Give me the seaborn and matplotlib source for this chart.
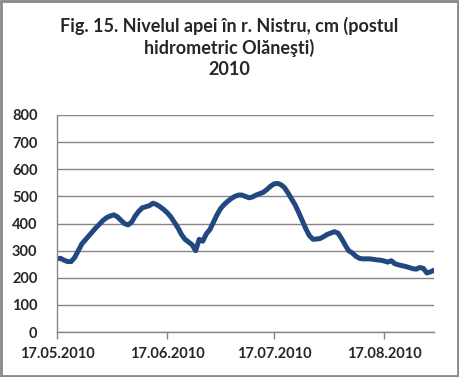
import pandas as pd
import matplotlib.pyplot as plt
import matplotlib.dates as mdates
from matplotlib.patches import Rectangle
import seaborn as sns

# Nivelul apei, cm, zilnic 17.05.2010 - 31.08.2010
start = '2010-05-17'
nivel = [270, 272, 265, 260, 260, 275, 300, 325, 340, 355,
         370, 385, 398, 412, 422, 428, 432, 425, 412, 400,
         395, 405, 428, 445, 458, 462, 466, 475, 470, 462,
         452, 440, 425, 405, 385, 360, 342, 332, 322, 300,
         342, 335, 362, 378, 405, 432, 455, 470, 482, 492,
         500, 505, 505, 500, 495, 498, 505, 510, 515, 525,
         537, 546, 548, 543, 532, 512, 490, 468, 440, 410,
         380, 355, 342, 343, 345, 352, 360, 365, 370, 365,
         345, 322, 300, 292, 280, 272, 270, 270, 270, 268,
         266, 265, 262, 258, 263, 252, 248, 245, 242, 238,
         234, 232, 238, 235, 218, 222, 228]
y_ticks = [0, 100, 200, 300, 400, 500, 600, 700, 800]
titlu = 'Fig. 15. Nivelul apei în r. Nistru, cm (postul\nhidrometric Olăneşti)\n2010'

df = pd.DataFrame({'Data': pd.date_range(start, periods=len(nivel), freq='D'),
                   'Nivel': nivel})

sns.set_style('white')
plt.rcParams['font.family'] = ['Lato', 'DejaVu Sans']

fig = plt.figure(figsize=(4.59, 3.77), dpi=100)
ax = fig.add_axes([0.124, 0.119, 0.8215, 0.576])

sns.lineplot(data=df, x='Data', y='Nivel', ax=ax, color='#22497f', linewidth=3.6)

ax.set_ylim(0, 800)
ax.set_yticks(y_ticks)
ax.set_xlim(df['Data'].iloc[0], df['Data'].iloc[-1])
ax.xaxis.set_major_locator(mdates.DayLocator(bymonthday=17))
ax.xaxis.set_major_formatter(mdates.DateFormatter('%d.%m.%Y'))
ax.grid(axis='y', color='#868686', linewidth=1)
ax.set_axisbelow(True)
ax.set_xlabel('')
ax.set_ylabel('')

for s in ['top', 'right']:
    ax.spines[s].set_visible(False)
for s in ['left', 'bottom']:
    ax.spines[s].set_color('#868686')
    ax.spines[s].set_linewidth(1)

ax.tick_params(axis='x', which='major', length=5, width=1, color='#868686',
               labelsize=10.5, pad=6, direction='out', bottom=True)
ax.tick_params(axis='y', length=0, labelsize=10.5, pad=14)
for lbl in ax.get_xticklabels() + ax.get_yticklabels():
    lbl.set_fontweight('bold')

fig.text(0.5, 0.955, titlu, ha='center', va='top', fontsize=13,
         fontweight='bold', linespacing=1.27)

fig.patches.append(Rectangle((0.002, 0.003), 0.996, 0.994, transform=fig.transFigure,
                             fill=False, edgecolor='#888888', linewidth=2))

fig.savefig('out.png', dpi=100)
